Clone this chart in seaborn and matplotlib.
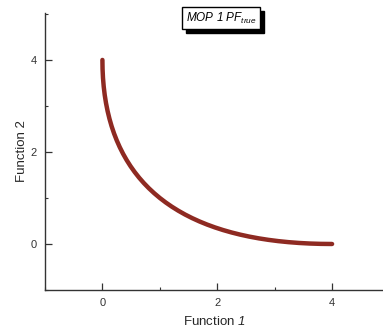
import numpy as np
import seaborn as sns
import matplotlib.pyplot as plt
from matplotlib.ticker import MultipleLocator
from matplotlib.patches import Rectangle

# Pareto front points
function_1 = [0.0000, 0.0025, 0.0100, 0.0225, 0.0400, 0.0625, 0.0900, 0.1225,
              0.1600, 0.2025, 0.2500, 0.3025, 0.3600, 0.4225, 0.4900, 0.5625,
              0.6400, 0.7225, 0.8100, 0.9025, 1.0000, 1.1025, 1.2100, 1.3225,
              1.4400, 1.5625, 1.6900, 1.8225, 1.9600, 2.1025, 2.2500, 2.4025,
              2.5600, 2.7225, 2.8900, 3.0625, 3.2400, 3.4225, 3.6100, 3.8025,
              4.0000]
function_2 = [4.0000, 3.8025, 3.6100, 3.4225, 3.2400, 3.0625, 2.8900, 2.7225,
              2.5600, 2.4025, 2.2500, 2.1025, 1.9600, 1.8225, 1.6900, 1.5625,
              1.4400, 1.3225, 1.2100, 1.1025, 1.0000, 0.9025, 0.8100, 0.7225,
              0.6400, 0.5625, 0.4900, 0.4225, 0.3600, 0.3025, 0.2500, 0.2025,
              0.1600, 0.1225, 0.0900, 0.0625, 0.0400, 0.0225, 0.0100, 0.0025,
              0.0000]

sns.set_style("ticks")
plt.rcParams['font.family'] = ['Liberation Sans', 'DejaVu Sans']
plt.rcParams['mathtext.fontset'] = 'custom'
plt.rcParams['mathtext.rm'] = 'Liberation Sans:italic'
plt.rcParams['mathtext.it'] = 'Liberation Sans:italic'

fig = plt.figure(figsize=(3.83, 3.34), dpi=100)
ax = fig.add_axes([45/383, 1 - 290/334, 1 - 45/383, 277/334])

sns.lineplot(x=function_1, y=function_2, sort=False, estimator=None,
             color='#8e2a22', linewidth=3.2, solid_capstyle='round', ax=ax)

ax.set_xlim(-1, 4.887)
ax.set_ylim(-1, 5.02)
ax.xaxis.set_major_locator(MultipleLocator(2))
ax.xaxis.set_minor_locator(MultipleLocator(1))
ax.yaxis.set_major_locator(MultipleLocator(2))
ax.yaxis.set_minor_locator(MultipleLocator(1))
ax.tick_params(which='major', direction='in', length=5, width=0.9,
               color='#333333', labelsize=8, labelcolor='#333333', pad=6)
ax.tick_params(which='minor', direction='in', length=2.5, width=0.8, color='#333333')
for s in ['top', 'right']:
    ax.spines[s].set_visible(False)
for s in ['left', 'bottom']:
    ax.spines[s].set_color('#333333')
    ax.spines[s].set_linewidth(1.0)

ax.set_xlabel(r'Function $1$', fontsize=9.5, labelpad=5)
ax.set_ylabel('Function 2', fontsize=9.5, labelpad=2)

# title box with drop shadow
t = fig.text(221/383, 1 - 18/334, r'MOP 1 PF$_{true}$', fontsize=8.5,
             fontstyle='italic', ha='center', va='center', color='black',
             zorder=5,
             bbox=dict(boxstyle='square,pad=0.3', fc='white', ec='black', lw=1))
fig.canvas.draw()
bb = t.get_bbox_patch().get_window_extent()
fig.patches.append(Rectangle((bb.x0 + 4, bb.y0 - 4), bb.width, bb.height,
                             transform=None, fc='black', ec='black', zorder=1))

fig.savefig('out.png', dpi=100)
